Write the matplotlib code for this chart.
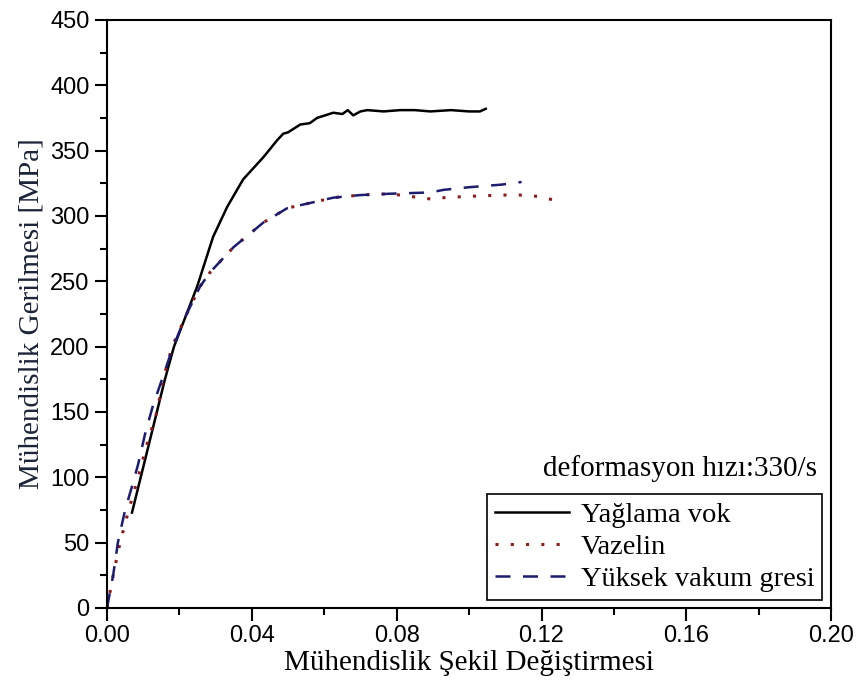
import matplotlib
matplotlib.use("Agg")
import matplotlib.pyplot as plt
import numpy as np
from matplotlib.ticker import MultipleLocator

# strain, stress [MPa]
strain_yok = [0.0069, 0.0119, 0.0160, 0.0185, 0.0210, 0.0249, 0.0293, 0.0332, 0.0376,
              0.0432, 0.0470, 0.0487, 0.0500, 0.0534, 0.0560, 0.0580, 0.0625, 0.0650,
              0.0665, 0.0680, 0.0700, 0.0719, 0.0764, 0.0810, 0.0850, 0.0893, 0.0950,
              0.1000, 0.1030, 0.1046]
stress_yok = [73, 129, 175, 200, 218, 246, 284, 307, 328,
              345, 358, 363, 364, 370, 371, 375, 379, 378,
              381, 377, 380, 381, 380, 381, 381, 380, 381,
              380, 380, 382]

strain_vaz = [0.0000, 0.0017, 0.0036, 0.0060, 0.0086, 0.0110, 0.0138, 0.0155, 0.0180,
              0.0220, 0.0257, 0.0285, 0.0349, 0.0432, 0.0498, 0.0562, 0.0625, 0.0700,
              0.0780, 0.0893, 0.0930, 0.1000, 0.1090, 0.1140, 0.1190, 0.1237]
stress_vaz = [0, 25, 50, 75, 100, 125, 150, 175, 200,
              225, 246, 257, 276, 295, 306, 310, 314, 316,
              317, 313, 314, 315, 316, 316, 315, 312]

strain_gres = [0.0000, 0.0017, 0.0030, 0.0050, 0.0069, 0.0086, 0.0105, 0.0127, 0.0152,
               0.0180, 0.0220, 0.0257, 0.0285, 0.0349, 0.0432, 0.0498, 0.0562, 0.0625,
               0.0700, 0.0780, 0.0893, 0.0930, 0.1000, 0.1090, 0.1145]
stress_gres = [0, 25, 50, 75, 93, 110, 133, 155, 175,
               198, 225, 246, 257, 276, 295, 306, 310, 314,
               316, 317, 318, 320, 322, 324, 326]

labels = ["Yağlama vok", "Vazelin", "Yüksek vakum gresi"]

serif = ["Liberation Serif", "DejaVu Serif"]
plt.rcParams['font.family'] = ["Liberation Sans", "DejaVu Sans"]

fig = plt.figure(figsize=(8.56, 6.88), dpi=100)
ax = fig.add_axes([0.125, 0.1163, 0.846, 0.8547])

ax.plot(strain_yok, stress_yok, color="black", lw=1.8, label=labels[0])
ax.plot(strain_vaz, stress_vaz, color="#8b1c1c", lw=2.2, linestyle=(0, (1, 4)), label=labels[1])
ax.plot(strain_gres, stress_gres, color="#1c1c70", lw=1.8, linestyle=(0, (6, 5)), label=labels[2])

ax.set_xlim(0, 0.20)
ax.set_ylim(0, 450)
ax.xaxis.set_major_locator(MultipleLocator(0.04))
ax.xaxis.set_minor_locator(MultipleLocator(0.02))
ax.yaxis.set_major_locator(MultipleLocator(50))
ax.yaxis.set_minor_locator(MultipleLocator(25))
ax.set_xticklabels(["%.2f" % v for v in ax.get_xticks()])

for s in ax.spines.values():
    s.set_linewidth(1.5)
ax.tick_params(which="major", direction="out", length=9, width=1.5, labelsize=17)
ax.tick_params(which="minor", direction="out", length=5, width=1.5)

ax.set_xlabel("Mühendislik Şekil Değiştirmesi", family=serif, fontsize=21, labelpad=2)
ax.set_ylabel("Mühendislik Gerilmesi [MPa]", family=serif, fontsize=21, labelpad=4,
              color="#1c2438")

ax.text(0.981, 0.238, "deformasyon hızı:330/s", transform=ax.transAxes,
        ha="right", va="center", family=serif, fontsize=21)

leg = ax.legend(loc="lower right", bbox_to_anchor=(0.988, 0.0136), prop={"family": serif, "size": 20.5},
                fancybox=False, framealpha=1, edgecolor="black", handlelength=2.6,
                handletextpad=0.4, borderpad=0.28, labelspacing=0.22, borderaxespad=0)
leg.get_frame().set_linewidth(1.2)

fig.savefig("out.png", dpi=100)
